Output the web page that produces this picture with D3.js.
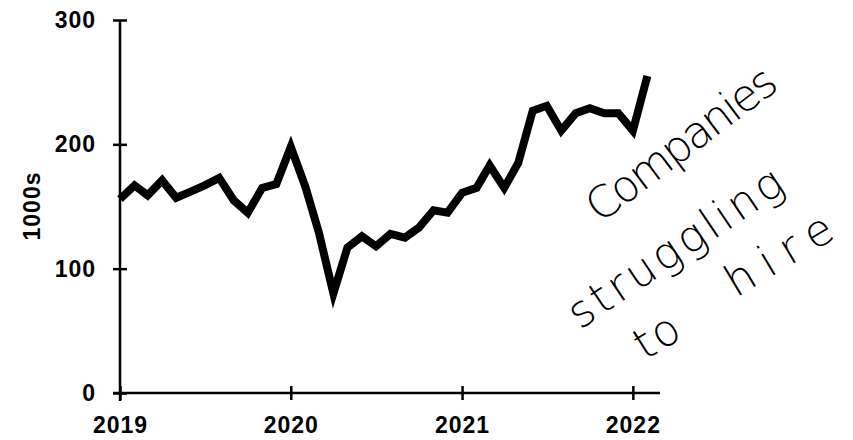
<!DOCTYPE html>
<html>
<head>
<meta charset="utf-8">
<script src="https://cdn.jsdelivr.net/npm/d3@7"></script>
<style>
  body { margin: 0; background: #fff; }
  .axis text { font-family: "Liberation Sans", Arial, sans-serif; font-weight: bold; font-size: 23px; letter-spacing: 1px; fill: #000; }
  .axis path, .axis line { stroke: #000; stroke-width: 2.5px; }
  .note { font-family: "DejaVu Sans", sans-serif; font-weight: 200; font-size: 44px; fill: #000; }
</style>
</head>
<body>
<svg class="chart" width="853" height="440"></svg>
<script>

//------------------------------------------------------------------------------
//Data
//------------------------------------------------------------------------------
var months = [
  "2019-01", "2019-02", "2019-03", "2019-04", "2019-05", "2019-06",
  "2019-07", "2019-08", "2019-09", "2019-10", "2019-11", "2019-12",
  "2020-01", "2020-02", "2020-03", "2020-04", "2020-05", "2020-06",
  "2020-07", "2020-08", "2020-09", "2020-10", "2020-11", "2020-12",
  "2021-01", "2021-02", "2021-03", "2021-04", "2021-05", "2021-06",
  "2021-07", "2021-08", "2021-09", "2021-10", "2021-11", "2021-12",
  "2022-01", "2022-02"
];

var values = [
  156, 167, 159, 171, 157, 162, 167, 173, 155, 145, 165, 168,
  198, 166, 129, 80, 117, 126, 118, 128, 125, 133, 147, 145,
  161, 165, 183, 165, 185, 227, 231, 211, 225, 229, 225, 225,
  211, 255
];

var yTicks = [0, 100, 200, 300];
var xTickLabels = ["2019", "2020", "2021", "2022"];
var yLabel = "1000s";

var noteLines = ["Companies", "struggling", "to", "hire"];


//------------------------------------------------------------------------------
//Chart
//------------------------------------------------------------------------------
function drawChart() {
  var svg = d3.select(".chart");
  var parse = d3.timeParse("%Y-%m");

  var data = months.map(function (m, i) {
    return { date: parse(m), value: values[i] };
  });

  var x = d3.scaleTime()
    .domain([new Date(2019, 0, 1), new Date(2022, 1, 28)])
    .range([120, 660]);

  var y = d3.scaleLinear()
    .domain([0, 300])
    .range([393, 20]);

  // y axis, ticks cross the line
  var yAxis = svg.append("g")
    .attr("class", "axis")
    .attr("transform", "translate(120,0)")
    .call(d3.axisLeft(y).tickValues(yTicks).tickSizeInner(7).tickSizeOuter(0).tickPadding(17));
  yAxis.selectAll(".tick line").attr("x1", 7);
  yAxis.select(".domain").attr("d", "M0," + y(300) + "V" + (y(0) + 8));

  // x axis
  var xDates = xTickLabels.map(function (t) { return new Date(+t, 0, 1); });
  var xAxis = svg.append("g")
    .attr("class", "axis")
    .attr("transform", "translate(0," + y(0) + ")")
    .call(d3.axisBottom(x).tickValues(xDates).tickFormat(d3.timeFormat("%Y"))
      .tickSizeInner(7).tickSizeOuter(0).tickPadding(17));
  xAxis.selectAll(".tick line").attr("y1", -7);
  xAxis.select(".domain").attr("d", "M113,0H660");

  svg.append("text")
    .attr("transform", "translate(40,206) rotate(-90)")
    .attr("text-anchor", "middle")
    .style("font-family", "Liberation Sans, Arial, sans-serif")
    .style("font-weight", "bold")
    .style("font-size", "23px")
    .style("letter-spacing", "1px")
    .text(yLabel);

  // the line
  var line = d3.line()
    .x(function (d) { return x(d.date); })
    .y(function (d) { return y(d.value); });

  svg.append("path")
    .datum(data)
    .attr("d", line)
    .attr("fill", "none")
    .attr("stroke", "#000")
    .attr("stroke-width", 8)
    .attr("stroke-linejoin", "miter")
    .attr("stroke-linecap", "butt");

  // hand written note
  var notePos = [
    { x: 600, y: 224, r: -37, len: 226 },
    { x: 580, y: 330, r: -34, len: 250 },
    { x: 645, y: 361, r: -32, len: 46 },
    { x: 736, y: 298, r: -31, len: 118 }
  ];
  svg.selectAll(".note")
    .data(noteLines)
    .enter()
    .append("text")
    .attr("class", "note")
    .attr("transform", function (d, i) {
      var p = notePos[i];
      return "translate(" + p.x + "," + p.y + ") rotate(" + p.r + ")";
    })
    .attr("textLength", function (d, i) { return notePos[i].len; })
    .attr("lengthAdjust", "spacing")
    .text(function (d) { return d; });
}

drawChart();
</script>
</body>
</html>
